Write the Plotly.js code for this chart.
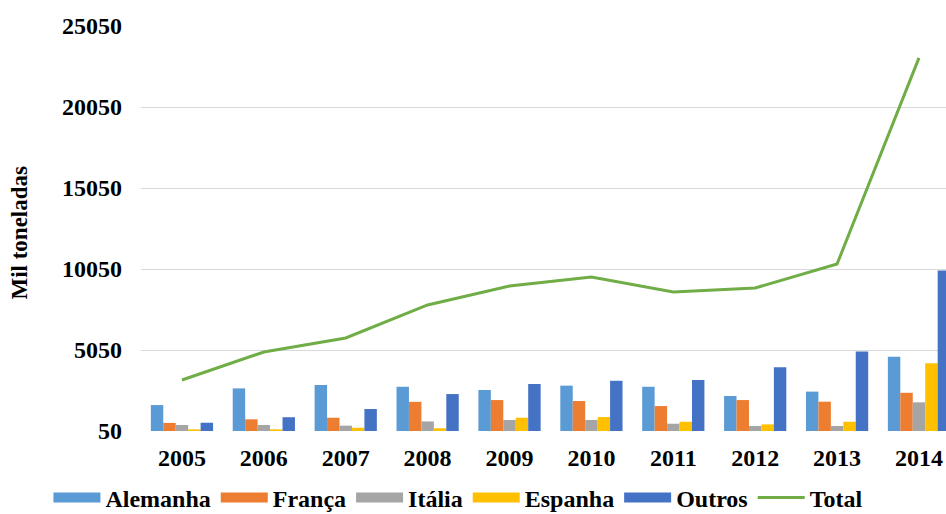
<!DOCTYPE html>
<html>
<head>
<meta charset="utf-8">
<script src="https://cdn.plot.ly/plotly-3.0.1.min.js"></script>
<style>html,body{margin:0;padding:0;background:#fff;}#chart{width:946px;height:514px;}</style>
</head>
<body>
<div id="chart"></div>
<script>
const years = ['2005','2006','2007','2008','2009','2010','2011','2012','2013','2014'];
const alemanha = [1650, 2680, 2890, 2780, 2580, 2850, 2780, 2210, 2480, 4640];
const franca   = [550, 770, 870, 1850, 1960, 1900, 1590, 1960, 1860, 2410];
const italia   = [420, 420, 380, 640, 730, 730, 500, 360, 360, 1820];
const espanha  = [150, 150, 250, 220, 870, 910, 620, 460, 620, 4230];
const outros   = [560, 900, 1410, 2330, 2950, 3150, 3200, 3980, 4950, 9950];
const total    = [3200, 4925, 5790, 7830, 9000, 9560, 8630, 8880, 10360, 23080];
const yTicks = [50, 5050, 10050, 15050, 20050, 25050];

const names = ['Alemanha','França','Itália','Espanha','Outros'];
const colors = ['#5B9BD5','#ED7D31','#A5A5A5','#FFC000','#4472C4'];
const series = [alemanha, franca, italia, espanha, outros];
const serif = "'Liberation Serif'";

const traces = [];
series.forEach((s, i) => {
  traces.push({type:'bar', x: years, y: s, name: names[i], marker:{color: colors[i]}, showlegend:false, hoverinfo:'skip'});
});
series.forEach((s, i) => {
  traces.push({type:'scatter', mode:'lines', x:[null], y:[null], name: names[i], line:{color: colors[i], width: 10}, showlegend:true, hoverinfo:'skip'});
});
traces.push({type:'scatter', mode:'lines', x: years, y: total, name:'Total', line:{color:'#70AD47', width:3}, hoverinfo:'skip'});

const layout = {
  width: 946, height: 514,
  margin: {l:141, r:0, t:26, b:83, autoexpand:false},
  paper_bgcolor:'#fff', plot_bgcolor:'#fff',
  barmode:'group', bargap:0.24, bargroupgap:0,
  showlegend:true,
  font:{family:serif},
  legend:{orientation:'h', x:-0.115, xanchor:'left', y:-0.165, yanchor:'middle',
    font:{family:serif, size:24, color:'#000', weight:700}, itemwidth:47, traceorder:'normal', tracegroupgap:0},
  xaxis:{type:'category', range:[-0.5, 9.33], showgrid:false, zeroline:false, showline:false,
    ticks:'', ticklabelstandoff:10, tickfont:{family:serif, size:24, color:'#000', weight:700}},
  yaxis:{range:[50, 25050], tickvals: yTicks, ticktext: yTicks.map(String), showgrid:true, gridcolor:'#D9D9D9', gridwidth:1,
    zeroline:false, showline:false, ticks:'', ticklabelstandoff:18, tickfont:{family:serif, size:24, color:'#000', weight:700}},
  annotations:[{text:'Mil toneladas', xref:'paper', yref:'paper', x:(20-141)/805, y:0.49, xanchor:'center', yanchor:'middle',
    textangle:-90, showarrow:false, font:{family:serif, size:23, color:'#000', weight:700}}]
};
Plotly.newPlot('chart', traces, layout, {staticPlot:true});
</script>
</body>
</html>
